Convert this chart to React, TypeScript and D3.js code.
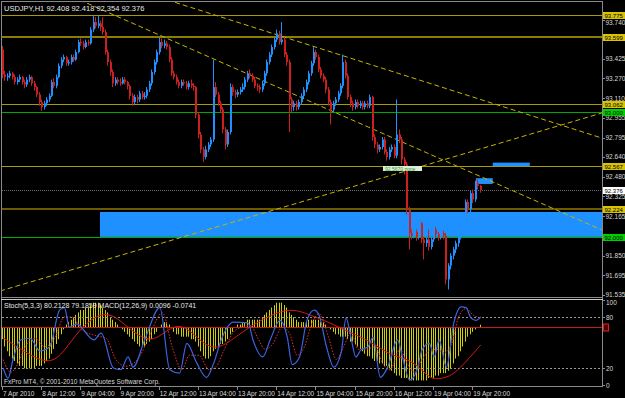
import React from 'react';
import * as d3 from 'd3';

// USDJPY H1, 7 Apr 2010 20:00 .. 19 Apr 2010 23:00 (one value per bar)
const symbolTitle = 'USDJPY,H1  92.408 92.418 92.354 92.376';
const indTitle = 'Stoch(5,3,3) 80.2128 79.1859   MACD(12,26,9) 0.0096 -0.0741';
const copyright = 'FxPro MT4, \u00a9 2001-2010 MetaQuotes Software Corp.';

const firstOpen = 93.50;
const closes = [
  93.30, 93.28, 93.29, 93.31, 93.28, 93.24, 93.26, 93.28, 93.24, 93.22,
  93.26, 93.28, 93.23, 93.20, 93.14, 93.08, 93.04, 93.07, 93.10, 93.13,
  93.24, 93.21, 93.28, 93.37, 93.42, 93.44, 93.39, 93.40, 93.44, 93.42,
  93.48, 93.56, 93.55, 93.52, 93.56, 93.55, 93.66, 93.72, 93.69, 93.71,
  93.68, 93.64, 93.48, 93.40, 93.32, 93.23, 93.26, 93.24, 93.23, 93.26,
  93.24, 93.21, 93.13, 93.08, 93.12, 93.10, 93.15, 93.12, 93.13, 93.18,
  93.23, 93.32, 93.40, 93.48, 93.56, 93.53, 93.55, 93.52, 93.42, 93.31,
  93.28, 93.24, 93.21, 93.24, 93.23, 93.20, 93.23, 93.21, 93.20, 92.98,
  92.82, 92.70, 92.64, 92.70, 92.74, 92.78, 93.20, 93.14, 93.07, 93.02,
  92.86, 92.74, 92.84, 93.20, 93.16, 93.14, 93.16, 93.18, 93.20, 93.26,
  93.31, 93.29, 93.26, 93.21, 93.20, 93.18, 93.23, 93.31, 93.40, 93.46,
  93.52, 93.58, 93.63, 93.56, 93.58, 93.46, 93.40, 93.10, 93.04, 93.07,
  93.04, 93.08, 93.13, 93.18, 93.24, 93.31, 93.39, 93.48, 93.44, 93.34,
  93.29, 93.26, 93.18, 93.08, 93.02, 93.07, 93.10, 93.15, 93.21, 93.40,
  93.29, 93.12, 93.07, 93.04, 93.08, 93.05, 93.07, 93.04, 93.07, 93.05,
  93.12, 92.80, 92.74, 92.70, 92.72, 92.78, 92.68, 92.64, 92.70, 92.72,
  92.65, 92.82, 92.78, 92.62, 92.58, 92.22, 92.03, 92.01, 92.04, 92.00,
  92.11, 91.98, 91.95, 91.98, 91.92, 91.98, 92.06, 92.02, 92.00, 92.03,
  92.01, 91.66, 91.77, 91.85, 91.90, 91.95, 92.00, 92.03, 92.14, 92.28,
  92.22, 92.35, 92.30, 92.43, 92.408, 92.376,
];
const highs = [
  93.53, 93.33, 93.31, 93.33, 93.32, 93.30, 93.28, 93.30, 93.29, 93.26,
  93.28, 93.30, 93.29, 93.25, 93.21, 93.16, 93.10, 93.09, 93.12, 93.15,
  93.26, 93.27, 93.30, 93.39, 93.44, 93.46, 93.45, 93.42, 93.46, 93.46,
  93.50, 93.58, 93.59, 93.57, 93.58, 93.58, 93.68, 93.77, 93.76, 93.77,
  93.73, 93.76, 93.66, 93.50, 93.42, 93.34, 93.28, 93.28, 93.27, 93.28,
  93.28, 93.25, 93.22, 93.15, 93.14, 93.14, 93.17, 93.17, 93.16, 93.20,
  93.25, 93.34, 93.42, 93.50, 93.60, 93.59, 93.58, 93.57, 93.54, 93.44,
  93.33, 93.30, 93.26, 93.26, 93.26, 93.25, 93.25, 93.26, 93.23, 93.21,
  93.00, 92.84, 92.72, 92.73, 92.76, 92.80, 93.42, 93.24, 93.16, 93.09,
  93.04, 92.88, 92.86, 93.23, 93.22, 93.18, 93.18, 93.20, 93.23, 93.28,
  93.33, 93.34, 93.31, 93.28, 93.23, 93.22, 93.25, 93.33, 93.42, 93.48,
  93.54, 93.60, 93.66, 93.65, 93.72, 93.60, 93.48, 93.42, 93.12, 93.09,
  93.09, 93.10, 93.15, 93.20, 93.26, 93.33, 93.41, 93.52, 93.50, 93.46,
  93.36, 93.31, 93.28, 93.20, 93.10, 93.09, 93.12, 93.17, 93.23, 93.46,
  93.42, 93.31, 93.14, 93.09, 93.10, 93.10, 93.09, 93.09, 93.09, 93.09,
  93.14, 93.13, 92.82, 92.76, 92.74, 92.80, 92.80, 92.70, 92.72, 92.74,
  92.74, 93.10, 92.86, 92.80, 92.64, 92.60, 92.24, 92.06, 92.06, 92.06,
  92.16, 92.12, 92.00, 92.00, 92.06, 92.00, 92.10, 92.08, 92.04, 92.06,
  92.05, 92.03, 91.79, 91.87, 91.92, 91.97, 92.02, 92.05, 92.16, 92.30,
  92.30, 92.37, 92.38, 92.45, 92.46, 92.418,
];
const lows = [
  93.27, 93.25, 93.25, 93.27, 93.26, 93.22, 93.22, 93.24, 93.22, 93.19,
  93.20, 93.24, 93.21, 93.17, 93.12, 93.05, 93.01, 93.02, 93.05, 93.08,
  93.12, 93.19, 93.19, 93.27, 93.35, 93.40, 93.37, 93.37, 93.38, 93.40,
  93.41, 93.47, 93.53, 93.50, 93.51, 93.53, 93.54, 93.64, 93.67, 93.67,
  93.65, 93.62, 93.46, 93.37, 93.29, 93.20, 93.21, 93.22, 93.21, 93.22,
  93.22, 93.18, 93.10, 93.05, 93.06, 93.07, 93.08, 93.10, 93.10, 93.11,
  93.16, 93.21, 93.30, 93.38, 93.46, 93.51, 93.51, 93.50, 93.40, 93.29,
  93.26, 93.22, 93.19, 93.19, 93.21, 93.18, 93.18, 93.19, 93.17, 92.95,
  92.79, 92.67, 92.60, 92.62, 92.68, 92.72, 92.76, 93.12, 93.05, 92.99,
  92.83, 92.70, 92.72, 92.82, 93.13, 93.11, 93.12, 93.14, 93.16, 93.18,
  93.24, 93.27, 93.24, 93.19, 93.17, 93.15, 93.16, 93.21, 93.29, 93.38,
  93.44, 93.50, 93.56, 93.54, 93.54, 93.44, 93.37, 92.84, 93.00, 93.01,
  93.01, 93.02, 93.06, 93.11, 93.16, 93.22, 93.29, 93.37, 93.42, 93.32,
  93.27, 93.24, 93.15, 93.05, 92.90, 93.00, 93.05, 93.08, 93.13, 93.19,
  93.27, 93.10, 93.04, 93.01, 93.02, 93.03, 93.03, 93.02, 93.02, 93.03,
  93.03, 92.77, 92.71, 92.67, 92.68, 92.70, 92.66, 92.61, 92.62, 92.68,
  92.63, 92.63, 92.75, 92.58, 92.50, 92.18, 91.90, 91.98, 91.99, 91.97,
  91.98, 91.95, 91.82, 91.92, 91.89, 91.90, 91.96, 91.99, 91.97, 91.98,
  91.98, 91.62, 91.58, 91.74, 91.82, 91.87, 91.92, 91.98, 92.01, 92.12,
  92.19, 92.20, 92.27, 92.28, 92.38, 92.354,
];

// MACD main (histogram), one per bar
const macdMain = [
  -0.05, -0.08, -0.10, -0.12, -0.13, -0.14, -0.15, -0.16, -0.16, -0.17,
  -0.17, -0.17, -0.17, -0.17, -0.16, -0.16, -0.16, -0.15, -0.14, -0.13,
  -0.11, -0.09, -0.07, -0.05, -0.03, -0.01, 0.01, 0.02, 0.03, 0.04,
  0.05, 0.06, 0.07, 0.07, 0.08, 0.08, 0.09, 0.10, 0.10, 0.10,
  0.09, 0.08, 0.07, 0.06, 0.04, 0.03, 0.02, 0.01, 0.00, -0.01,
  -0.02, -0.03, -0.04, -0.05, -0.06, -0.07, -0.08, -0.08, -0.08, -0.07,
  -0.06, -0.05, -0.03, -0.02, 0.00, 0.01, 0.02, 0.02, 0.01, 0.00,
  -0.02, -0.03, -0.03, -0.04, -0.04, -0.04, -0.04, -0.05, -0.05, -0.06,
  -0.08, -0.10, -0.12, -0.13, -0.13, -0.12, -0.10, -0.09, -0.08, -0.07,
  -0.07, -0.06, -0.05, -0.03, -0.02, 0.00, 0.01, 0.01, 0.02, 0.02,
  0.03, 0.03, 0.03, 0.03, 0.03, 0.03, 0.04, 0.05, 0.06, 0.07,
  0.08, 0.09, 0.10, 0.10, 0.10, 0.09, 0.08, 0.06, 0.05, 0.04,
  0.03, 0.02, 0.02, 0.02, 0.02, 0.03, 0.03, 0.03, 0.03, 0.03,
  0.02, 0.02, 0.01, 0.00, -0.01, -0.02, -0.03, -0.03, -0.04, -0.04,
  -0.04, -0.05, -0.06, -0.06, -0.07, -0.08, -0.09, -0.10, -0.11, -0.12,
  -0.12, -0.13, -0.14, -0.14, -0.15, -0.15, -0.16, -0.16, -0.17, -0.18,
  -0.19, -0.20, -0.20, -0.21, -0.21, -0.21, -0.22, -0.22, -0.22, -0.22,
  -0.22, -0.22, -0.22, -0.22, -0.21, -0.21, -0.21, -0.20, -0.20, -0.19,
  -0.19, -0.19, -0.18, -0.17, -0.15, -0.13, -0.12, -0.10, -0.08, -0.06,
  -0.04, -0.03, -0.02, -0.01, 0.00, 0.0096,
];
// MACD signal, [bar, value]
const macdSignal: [number, number][] = [
  [0, -0.045], [10, -0.11], [19, -0.156], [25, -0.10], [31, -0.012], [37, 0.04],
  [42, 0.058], [47, 0.035], [52, -0.012], [60, -0.066], [66, -0.02], [72, 0.016],
  [78, -0.03], [86, -0.107], [95, -0.04], [105, 0.03], [117, 0.082], [125, 0.05],
  [133, 0.02], [141, -0.02], [149, -0.053], [159, -0.123], [166, -0.13], [173, -0.198],
  [176, -0.218], [182, -0.206], [186, -0.177], [195, -0.0741],
];
// Stochastic %K and %D, [bar, value]
const stochK: [number, number][] = [
  [0, 20], [2, 8], [4, 30], [7, 53], [11, 55], [15, 40], [19, 45], [23, 88], [25, 91],
  [27, 68], [30, 72], [37, 53], [40, 61], [45, 20], [48, 18], [51, 33], [53, 21],
  [58, 55], [64, 91], [68, 18], [72, 14], [75, 49], [79, 26], [83, 9], [86, 26],
  [89, 53], [94, 74], [100, 73], [102, 53], [106, 33], [109, 53], [113, 76], [116, 56],
  [118, 24], [121, 33], [124, 76], [127, 88], [129, 82], [132, 45], [135, 21], [138, 38],
  [140, 79], [142, 56], [144, 33], [146, 41], [149, 45], [151, 56], [154, 9], [157, 21],
  [161, 53], [163, 33], [166, 6], [169, 18], [171, 41], [174, 49], [176, 33], [178, 53],
  [181, 21], [184, 73], [187, 92], [189, 91], [191, 79], [193, 76], [195, 80.21],
];
const stochD: [number, number][] = [
  [0, 30], [3, 15], [6, 25], [9, 45], [13, 55], [17, 45], [21, 55], [25, 80], [28, 80],
  [32, 65], [38, 58], [42, 55], [46, 30], [50, 22], [53, 25], [56, 35], [60, 60],
  [65, 85], [69, 45], [73, 18], [76, 35], [80, 35], [84, 18], [87, 22], [90, 40],
  [95, 65], [101, 70], [104, 55], [107, 42], [110, 48], [114, 68], [117, 60], [120, 35],
  [123, 45], [126, 72], [129, 84], [133, 55], [136, 30], [139, 45], [142, 62], [145, 42],
  [148, 42], [152, 45], [155, 25], [158, 18], [162, 42], [165, 25], [168, 15], [171, 30],
  [175, 42], [177, 42], [180, 38], [183, 48], [186, 80], [189, 90], [192, 82], [195, 79.19],
];

// visible price-scale ticks (the ones under the level boxes are hidden in the reference)
const priceTicks = [93.740, 93.425, 93.270, 93.110, 92.955, 92.795, 92.640,
  92.480, 92.325, 92.165, 91.850, 91.695, 91.535];
const dateLabels = ['7 Apr 2010', '8 Apr 12:00', '9 Apr 04:00', '9 Apr 20:00', '12 Apr 12:00',
  '13 Apr 04:00', '13 Apr 20:00', '14 Apr 12:00', '15 Apr 04:00', '15 Apr 20:00',
  '16 Apr 12:00', '19 Apr 04:00', '19 Apr 20:00'];
const stochTicks = [100, 80, 20, 0];

// horizontal levels: price, colour, width
const levels: [number, string, number][] = [
  [93.775, '#a89a00', 1], [93.599, '#8c7c00', 2], [93.062, '#a89a00', 1],
  [93.000, '#00a800', 1], [92.567, '#a89a00', 1], [92.224, '#6e5a00', 2], [92.000, '#00b000', 1],
];
const levelBoxes: [number, string][] = [
  [93.775, '#d8c400'], [93.599, '#d8c400'], [93.062, '#d8c400'], [93.000, '#00d000'],
  [92.567, '#d8c400'], [92.376, '#ffffff'], [92.224, '#d8c400'], [92.000, '#00d000'],
];
// trend lines: [bar, price] pairs
const trends: [number, number][][] = [
  [[67.6, 93.897], [244.9, 92.792]],
  [[-0.8, 91.567], [244.9, 92.992]],
  [[31.8, 93.897], [244.9, 92.056]],
];
// rectangles: bar from, bar to, price top, price bottom
const zones: [number, number, number, number][] = [
  [40, 246, 92.20, 92.00],
  [200.4, 215.5, 92.595, 92.567],
  [193.5, 200.4, 92.47, 92.424],
];

const x = d3.scaleLinear().domain([0, 245]).range([2, 602]);
const y = d3.scaleLinear().domain([91.519, 93.889]).range([297, 1]);
const sy = d3.scaleLinear().domain([0, 100]).range([385, 300]);
const my = d3.scaleLinear().domain([0, 0.1]).range([327, 302.7]);

const bull = '#1e90ff';
const bear = '#cc2020';
const font = 'Liberation Sans, Arial, sans-serif';

export default function App() {
  const stochLine = d3.line<[number, number]>()
    .x(d => x(d[0]) + 1.2).y(d => sy(d[1])).curve(d3.curveMonotoneX);
  const sigLine = d3.line<[number, number]>()
    .x(d => x(d[0]) + 1.2).y(d => my(d[1])).curve(d3.curveBasis);
  const ry = (p: number) => Math.round(y(p)) + 0.5;
  const tickDy = (p: number) => (p === 93.740 ? 5 : p === 91.535 ? 1.5 : 2.5);

  return (
    <svg width={625} height={398} style={{ position: 'fixed', left: 0, top: 0, background: '#000' }}
      fontFamily={font}>
      <defs>
        <clipPath id="main"><rect x={2} y={1} width={600} height={296} /></clipPath>
        <clipPath id="ind"><rect x={2} y={299} width={600} height={87} /></clipPath>
      </defs>
      <rect width={625} height={398} fill="#000" />

      <g clipPath="url(#main)">
        {levels.map(([p, c, w], i) => (
          <line key={i} x1={2} x2={602} y1={w === 1 ? ry(p) : Math.round(y(p))}
            y2={w === 1 ? ry(p) : Math.round(y(p))} stroke={c} strokeWidth={w} />
        ))}
        <line x1={2} x2={602} y1={ry(92.376)} y2={ry(92.376)} stroke="#6a6a6a" strokeDasharray="1,1" />
        {zones.map((z, i) => (
          <rect key={i} x={x(z[0])} y={y(z[2])} width={x(z[1]) - x(z[0])}
            height={y(z[3]) - y(z[2])} fill={bull} />
        ))}
        {trends.map((t, i) => (
          <line key={i} x1={x(t[0][0])} y1={y(t[0][1])} x2={x(t[1][0])} y2={y(t[1][1])}
            stroke="#c8b400" strokeDasharray="5,3" />
        ))}
        {closes.map((c, i) => {
          const o = i === 0 ? firstOpen : closes[i - 1];
          const col = c >= o ? bull : bear;
          const px = Math.round(x(i));
          const top = y(Math.max(o, c));
          const bot = y(Math.min(o, c));
          return (
            <g key={i}>
              <line x1={px + 0.5} x2={px + 0.5} y1={y(Math.max(highs[i], o, c))}
                y2={y(Math.min(lows[i], o, c))} stroke={col} />
              <rect x={px} width={2} y={top} height={Math.max(1, bot - top)} fill={col} />
            </g>
          );
        })}
        <rect x={383} y={Math.round(y(92.57))} width={39} height={5} fill="#dcefd8" />
        <text x={385} y={Math.round(y(92.57)) + 4.5} fontSize={5} fill="#2a9a2a">92.5670 zone</text>
      </g>

      <text x={4} y={11} fontSize={7.5} fill="#e8e8e8">{symbolTitle}</text>

      {/* frames */}
      <g stroke="#8a8a8a" fill="none">
        <line x1={1.5} x2={1.5} y1={1} y2={387} />
        <line x1={602.5} x2={602.5} y1={1} y2={387} />
        <line x1={1} x2={603} y1={1.5} y2={1.5} />
        <line x1={1} x2={603} y1={297.5} y2={297.5} />
        <line x1={1} x2={603} y1={299.5} y2={299.5} stroke="#c8c8c8" />
        <line x1={1} x2={603} y1={386.5} y2={386.5} />
      </g>

      {/* price axis */}
      {priceTicks.map((p, i) => (
        <g key={i}>
          <line x1={602} x2={605} y1={ry(p)} y2={ry(p)} stroke="#8a8a8a" />
          <text x={605.5} y={y(p) + tickDy(p)} fontSize={6.5} fill="#d8d8d8">{p.toFixed(3)}</text>
        </g>
      ))}
      {levelBoxes.map(([p, c], i) => (
        <g key={i}>
          <rect x={603} y={Math.round(y(p)) - 3} width={22} height={7} fill={c} />
          <text x={604.5} y={Math.round(y(p)) + 2.5} fontSize={6} fill="#000">{p.toFixed(3)}</text>
        </g>
      ))}

      {/* indicator window */}
      <g clipPath="url(#ind)">
        {macdMain.map((v, i) => (
          <line key={i} x1={Math.round(x(i)) + 0.5} x2={Math.round(x(i)) + 0.5}
            y1={my(0)} y2={my(v)} stroke="#d0d000" />
        ))}
        <line x1={2} x2={602} y1={Math.round(my(0)) + 0.5} y2={Math.round(my(0)) + 0.5} stroke="#c81818" />
        {[80, 20].map(v => (
          <line key={v} x1={2} x2={602} y1={Math.round(sy(v)) + 0.5} y2={Math.round(sy(v)) + 0.5}
            stroke="#9a9a9a" strokeDasharray="2,2" />
        ))}
        <path d={sigLine(macdSignal) || ''} fill="none" stroke="#d81818" />
        <path d={stochLine(stochD) || ''} fill="none" stroke="#e03030" strokeDasharray="1.5,1.5" />
        <path d={stochLine(stochK) || ''} fill="none" stroke="#3c64e0" strokeWidth={1.2} />
      </g>
      <text x={4} y={308} fontSize={7} fill="#e8e8e8">{indTitle}</text>
      <text x={4} y={384} fontSize={6.5} fill="#d8d8d8">{copyright}</text>
      {stochTicks.map(v => (
        <g key={v}>
          <line x1={602} x2={605} y1={Math.round(sy(v)) + 0.5} y2={Math.round(sy(v)) + 0.5} stroke="#8a8a8a" />
          <text x={606} y={sy(v) + (v === 100 ? 5 : 2.5)} fontSize={6.5} fill="#d8d8d8">{v}</text>
        </g>
      ))}
      <rect x={603.5} y={Math.round(my(0)) - 3} width={5} height={7} fill="#500000" stroke="#e02020" />

      {/* time axis */}
      {dateLabels.map((d, i) => (
        <g key={i}>
          <line x1={Math.round(x(i * 16)) + 0.5} x2={Math.round(x(i * 16)) + 0.5} y1={387} y2={390} stroke="#8a8a8a" />
          <text x={x(i * 16) + 1} y={396} fontSize={6.5} fill="#d8d8d8">{d}</text>
        </g>
      ))}
    </svg>
  );
}
